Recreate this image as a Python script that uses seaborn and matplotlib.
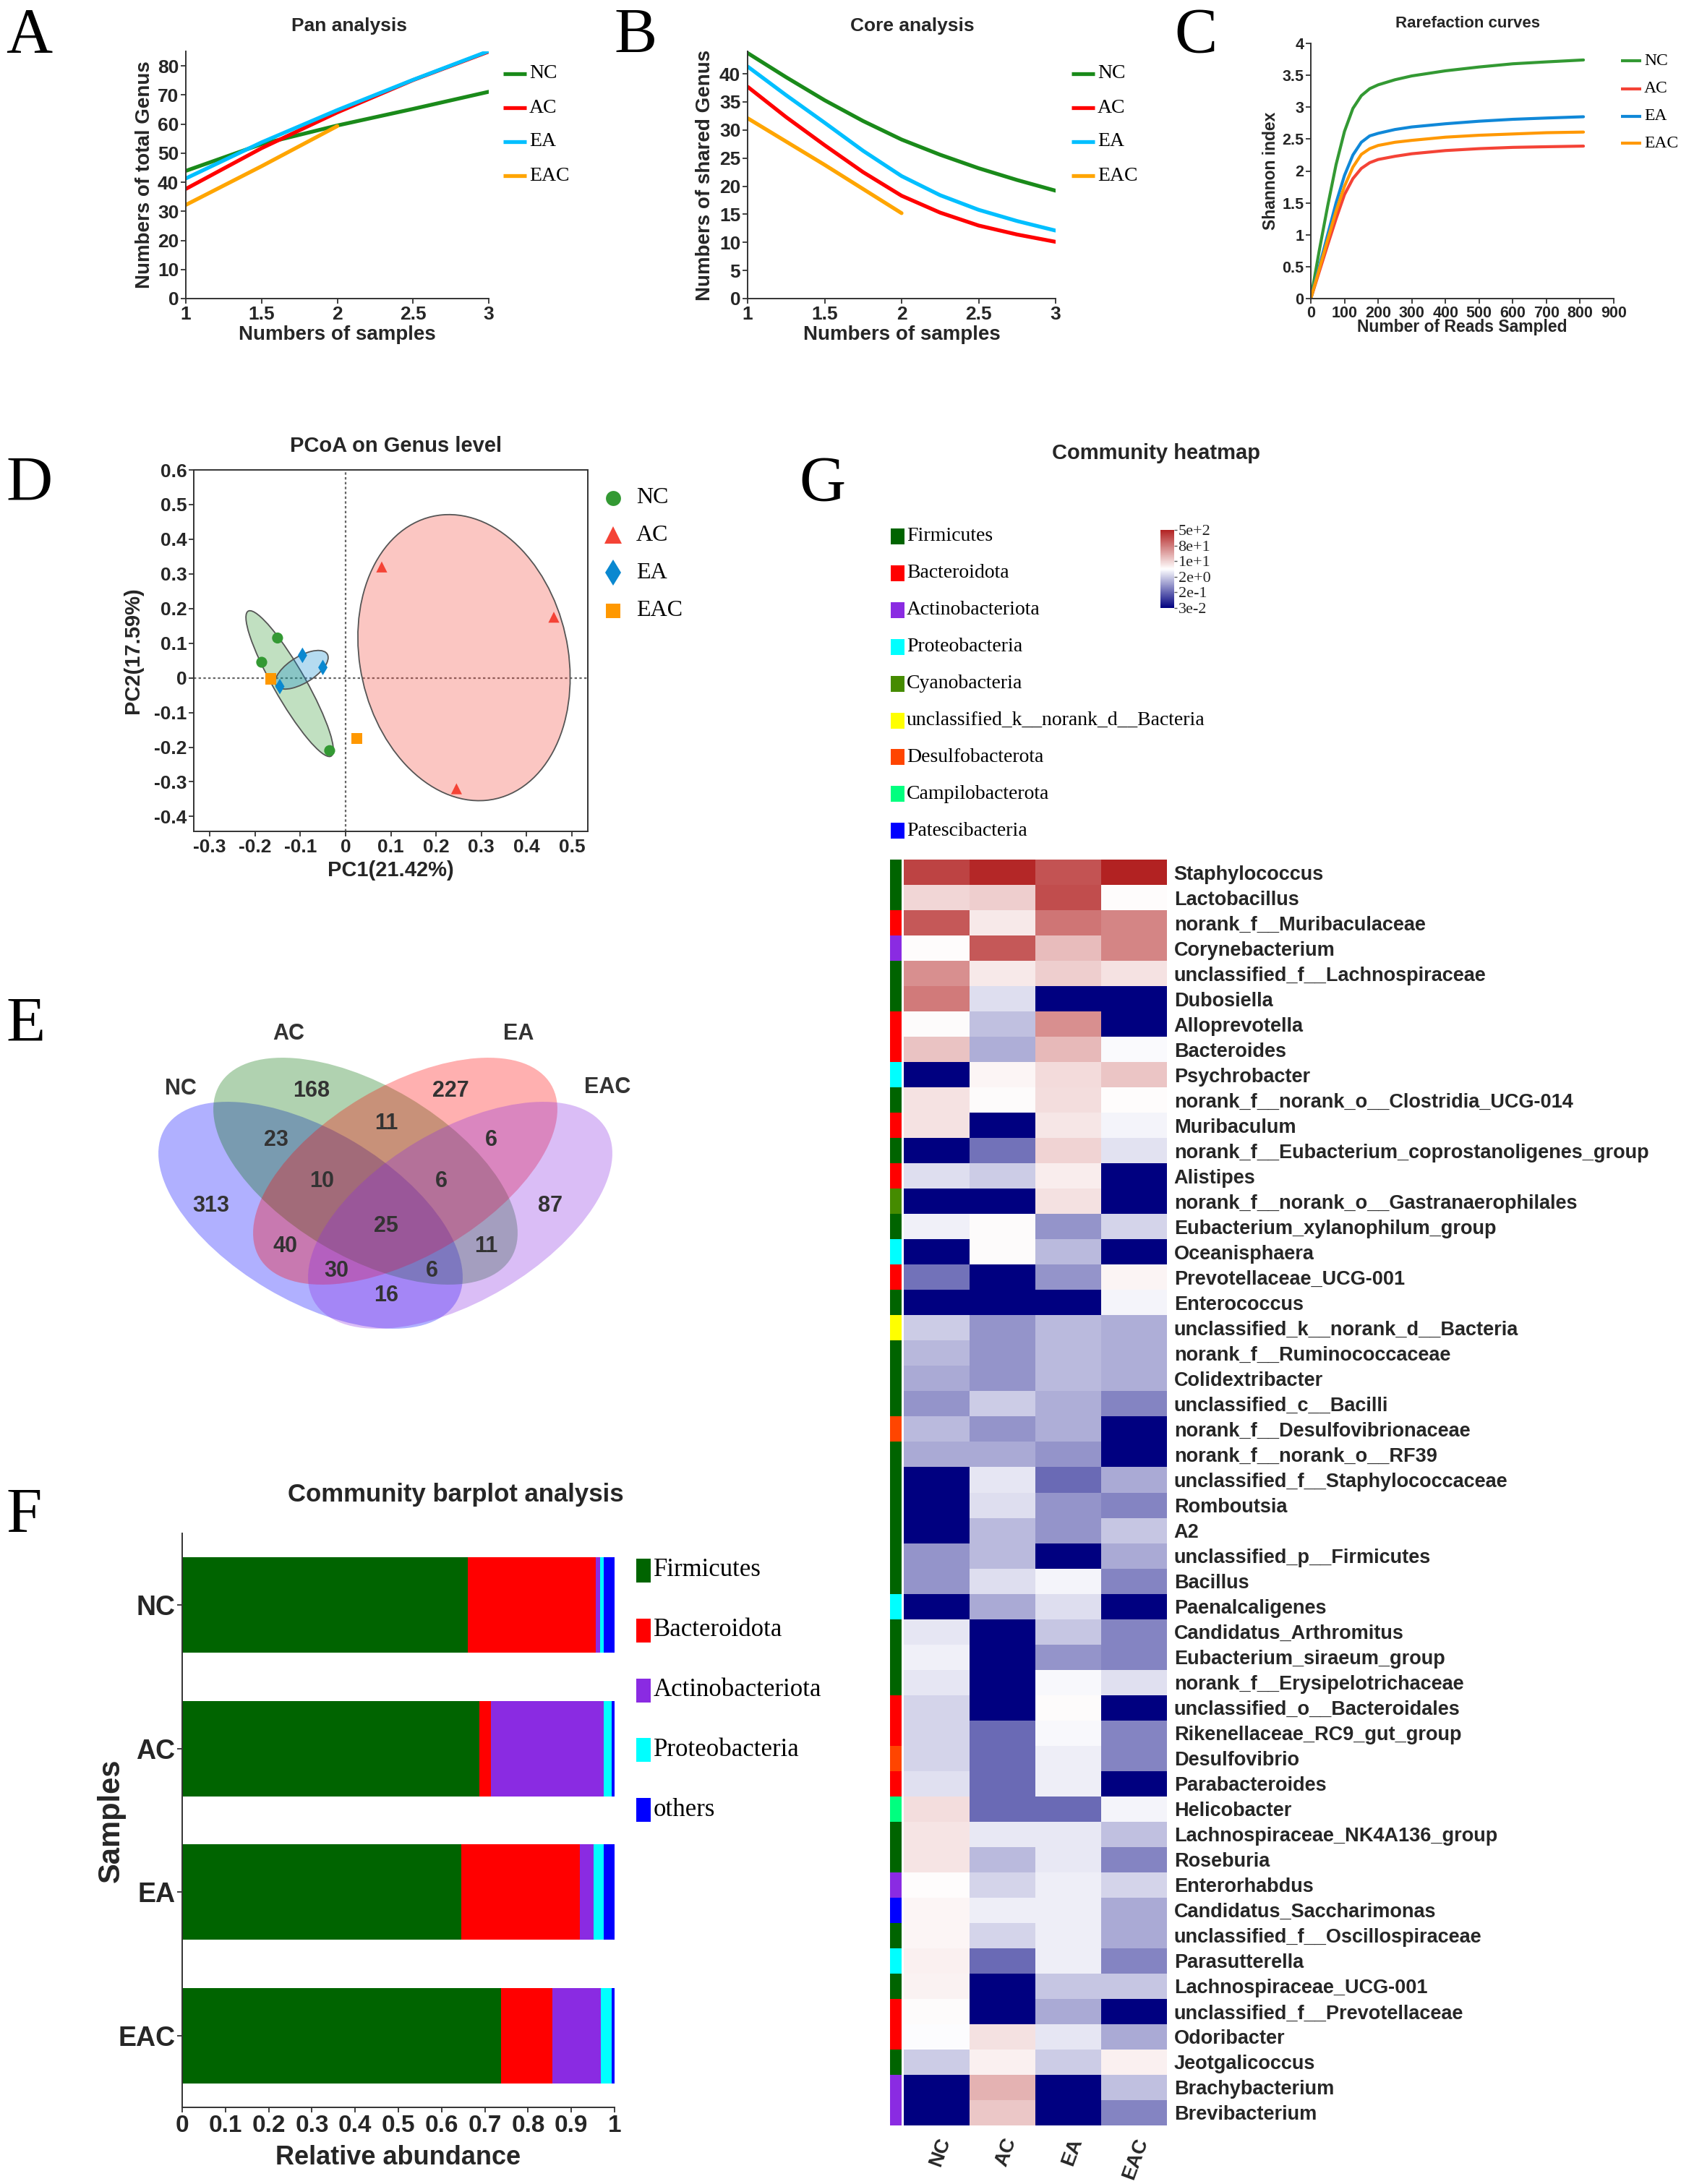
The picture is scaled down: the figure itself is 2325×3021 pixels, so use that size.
import numpy as np
import pandas as pd
import seaborn as sns
import matplotlib
matplotlib.use('Agg')
import matplotlib.pyplot as plt
from matplotlib import transforms as mtransforms
from matplotlib.patches import Ellipse, Rectangle
from matplotlib.lines import Line2D
from matplotlib.colors import LinearSegmentedColormap, ListedColormap, Normalize
from matplotlib.cm import ScalarMappable
from matplotlib.ticker import FuncFormatter, MultipleLocator

W, H, DPI = 2325, 3021, 100
SANS, SERIF = 'Liberation Sans', 'Liberation Serif'
TXT, EDGE = '#262626', '#333333'

groups = ['NC', 'AC', 'EA', 'EAC']

# ---- A: pan analysis
pan_x = [1, 1.5, 2, 2.5, 3]
pan_nc = [43.9, 53.1, 59.5, 65.2, 71.1]
pan_ac = [37.7, 51.7, 64.0, 75.1, 84.9]
pan_ea = [41.3, 53.7, 64.8, 75.2, 85.1]
pan_eac_x = [1, 1.5, 2]
pan_eac = [32.2, 45.5, 59.3]

# ---- B: core analysis
core_x = [1, 1.25, 1.5, 1.75, 2, 2.25, 2.5, 2.75, 3]
core_nc = [43.7, 39.4, 35.3, 31.6, 28.3, 25.6, 23.2, 21.1, 19.2]
core_ac = [37.7, 32.3, 27.3, 22.5, 18.3, 15.3, 13.0, 11.4, 10.1]
core_ea = [41.3, 36.2, 31.3, 26.3, 21.8, 18.4, 15.8, 13.8, 12.1]
core_eac_x = [1, 1.5, 2]
core_eac = [32.1, 23.8, 15.2]

# ---- C: rarefaction
rare_x = [0, 25, 50, 75, 100, 125, 150, 175, 200, 250, 300, 400, 500, 600, 700, 810]
rare_nc = [0, 0.75, 1.45, 2.1, 2.62, 2.98, 3.18, 3.29, 3.35, 3.43, 3.49, 3.57, 3.63, 3.68, 3.71, 3.74]
rare_ac = [0, 0.42, 0.84, 1.25, 1.63, 1.88, 2.04, 2.13, 2.18, 2.23, 2.27, 2.32, 2.35, 2.37, 2.38, 2.39]
rare_ea = [0, 0.5, 1.0, 1.5, 1.93, 2.25, 2.45, 2.55, 2.59, 2.65, 2.69, 2.74, 2.78, 2.81, 2.83, 2.85]
rare_eac = [0, 0.46, 0.92, 1.37, 1.76, 2.06, 2.26, 2.35, 2.40, 2.45, 2.48, 2.53, 2.56, 2.58, 2.60, 2.61]

# ---- D: PCoA
pcoa_group = ['NC', 'NC', 'NC', 'AC', 'AC', 'AC', 'EA', 'EA', 'EA', 'EAC', 'EAC']
pcoa_pc1 = [-0.15, -0.185, -0.035, 0.08, 0.46, 0.245, -0.095, -0.05, -0.145, -0.165, 0.025]
pcoa_pc2 = [0.115, 0.045, -0.21, 0.32, 0.175, -0.32, 0.065, 0.03, -0.025, -0.003, -0.175]

# ---- E: Venn
venn_regions = ['NC', 'AC', 'EA', 'EAC', 'NC&AC', 'AC&EA', 'EA&EAC', 'NC&EAC', 'NC&EA',
                'AC&EAC', 'NC&AC&EA', 'AC&EA&EAC', 'NC&EA&EAC', 'NC&AC&EAC', 'ALL']
venn_counts = [313, 168, 227, 87, 23, 11, 6, 16, 40, 11, 10, 6, 30, 6, 25]

# ---- F: community barplot
phyla_bar = ['Firmicutes', 'Bacteroidota', 'Actinobacteriota', 'Proteobacteria', 'others']
bar_firmicutes = [0.661, 0.688, 0.645, 0.737]
bar_bacteroidota = [0.296, 0.026, 0.274, 0.120]
bar_actino = [0.010, 0.261, 0.032, 0.111]
bar_proteo = [0.008, 0.018, 0.024, 0.025]
bar_others = [0.025, 0.007, 0.025, 0.007]

# ---- G: community heatmap
phyla_heat = ['Firmicutes', 'Bacteroidota', 'Actinobacteriota', 'Proteobacteria', 'Cyanobacteria',
              'unclassified_k__norank_d__Bacteria', 'Desulfobacterota', 'Campilobacterota',
              'Patescibacteria']
genera = ['Staphylococcus', 'Lactobacillus', 'norank_f__Muribaculaceae', 'Corynebacterium',
          'unclassified_f__Lachnospiraceae', 'Dubosiella', 'Alloprevotella', 'Bacteroides',
          'Psychrobacter', 'norank_f__norank_o__Clostridia_UCG-014', 'Muribaculum',
          'norank_f__Eubacterium_coprostanoligenes_group', 'Alistipes',
          'norank_f__norank_o__Gastranaerophilales', 'Eubacterium_xylanophilum_group',
          'Oceanisphaera', 'Prevotellaceae_UCG-001', 'Enterococcus',
          'unclassified_k__norank_d__Bacteria', 'norank_f__Ruminococcaceae', 'Colidextribacter',
          'unclassified_c__Bacilli', 'norank_f__Desulfovibrionaceae', 'norank_f__norank_o__RF39',
          'unclassified_f__Staphylococcaceae', 'Romboutsia', 'A2', 'unclassified_p__Firmicutes',
          'Bacillus', 'Paenalcaligenes', 'Candidatus_Arthromitus', 'Eubacterium_siraeum_group',
          'norank_f__Erysipelotrichaceae', 'unclassified_o__Bacteroidales',
          'Rikenellaceae_RC9_gut_group', 'Desulfovibrio', 'Parabacteroides', 'Helicobacter',
          'Lachnospiraceae_NK4A136_group', 'Roseburia', 'Enterorhabdus',
          'Candidatus_Saccharimonas', 'unclassified_f__Oscillospiraceae', 'Parasutterella',
          'Lachnospiraceae_UCG-001', 'unclassified_f__Prevotellaceae', 'Odoribacter',
          'Jeotgalicoccus', 'Brachybacterium', 'Brevibacterium']
genus_phylum = [0, 0, 1, 2, 0, 0, 1, 1, 3, 0, 1, 0, 1, 4, 0, 3, 1, 0, 5, 0, 0, 0, 6, 0, 0,
                0, 0, 0, 0, 3, 0, 0, 0, 1, 1, 6, 1, 7, 0, 0, 2, 8, 0, 3, 0, 1, 1, 0, 2, 2]
# scaled log abundance, -1 (3e-2) ... +1 (5e+2); columns NC, AC, EA, EAC
heat_levels = [
    [0.85, 0.97, 0.78, 1.0], [0.18, 0.22, 0.8, 0.01], [0.75, 0.1, 0.62, 0.55],
    [0.01, 0.75, 0.3, 0.55], [0.5, 0.1, 0.22, 0.13], [0.6, -0.13, -1, -1],
    [0.02, -0.25, 0.5, -1], [0.27, -0.32, 0.32, -0.02], [-1, 0.04, 0.16, 0.26],
    [0.13, 0.02, 0.15, 0.01], [0.13, -1, 0.11, -0.04], [-1, -0.55, 0.2, -0.11],
    [-0.13, -0.2, 0.08, -1], [-1, -1, 0.14, -1], [-0.06, 0.02, -0.42, -0.17],
    [-1, 0.02, -0.27, -1], [-0.55, -1, -0.42, 0.05], [-1, -1, -1, -0.04],
    [-0.2, -0.42, -0.27, -0.32], [-0.28, -0.42, -0.27, -0.32], [-0.33, -0.42, -0.27, -0.32],
    [-0.42, -0.2, -0.32, -0.48], [-0.27, -0.42, -0.32, -1], [-0.33, -0.33, -0.42, -1],
    [-1, -0.1, -0.58, -0.33], [-1, -0.13, -0.42, -0.48], [-1, -0.27, -0.42, -0.22],
    [-0.42, -0.27, -1, -0.33], [-0.42, -0.13, -0.04, -0.48], [-1, -0.33, -0.13, -1],
    [-0.1, -1, -0.22, -0.48], [-0.06, -1, -0.42, -0.48], [-0.1, -1, -0.03, -0.12],
    [-0.17, -1, 0.02, -1], [-0.17, -0.58, -0.03, -0.48], [-0.17, -0.58, -0.07, -0.48],
    [-0.12, -0.58, -0.07, -1], [0.15, -0.58, -0.58, -0.04], [0.12, -0.09, -0.09, -0.25],
    [0.12, -0.27, -0.09, -0.48], [0.01, -0.17, -0.07, -0.17], [0.04, -0.07, -0.07, -0.33],
    [0.04, -0.17, -0.07, -0.33], [0.07, -0.58, -0.07, -0.48], [0.06, -1, -0.22, -0.22],
    [0.02, -1, -0.33, -1], [-0.01, 0.14, -0.1, -0.33], [-0.2, 0.07, -0.2, 0.07],
    [-1, 0.35, -1, -0.25], [-1, 0.25, -1, -0.48]]
cbar_labels = ['3e-2', '2e-1', '2e+0', '1e+1', '8e+1', '5e+2']

# colours
line_colors = {'NC': '#1a8a1a', 'AC': '#ff0000', 'EA': '#00bfff', 'EAC': '#ffa500'}
rare_colors = {'NC': '#339933', 'AC': '#f44336', 'EA': '#1088d8', 'EAC': '#ff9800'}
pcoa_colors = {'NC': '#339933', 'AC': '#f44336', 'EA': '#0a88d0', 'EAC': '#ff9800'}
pcoa_markers = {'NC': 'o', 'AC': '^', 'EA': 'd', 'EAC': 's'}
venn_colors = {'NC': '#0000ff', 'AC': '#006e00', 'EA': '#ff0000', 'EAC': '#8a2be2'}
bar_colors = ['#006400', '#ff0000', '#8a2be2', '#00ffff', '#0000ff']
phylum_colors = ['#006400', '#ff0000', '#8a2be2', '#00ffff', '#458b00', '#ffff00',
                 '#ff4500', '#00ff7f', '#0000ff']

sns.set_style('ticks')
plt.rcParams['font.family'] = [SANS, 'DejaVu Sans']
plt.rcParams['font.weight'] = 'bold'
plt.rcParams['axes.labelweight'] = 'bold'
plt.rcParams['axes.unicode_minus'] = False
plt.rcParams['text.color'] = TXT

fig = plt.figure(figsize=(W / DPI, H / DPI), dpi=DPI)
PX = mtransforms.Affine2D().scale(1.0 / W, -1.0 / H).translate(0, 1) + fig.transFigure


def axes_px(l, t, r, b):
    ax = fig.add_axes([l / W, 1 - b / H, (r - l) / W, (b - t) / H])
    ax.px = (l, t, r, b)
    return ax


def text_px(x, y, s, **kw):
    return fig.text(x, y, s, transform=PX, **kw)


def style_axes(ax, size, box=False):
    if not box:
        sns.despine(ax=ax)
    for sp in ax.spines.values():
        sp.set_color(EDGE)
        sp.set_linewidth(1.4)
    ax.tick_params(direction='out', length=5, width=1.3, color=EDGE, labelsize=size,
                   labelcolor=TXT, pad=2)


def labels_px(ax, xlab, ylab, xy, yx, size):
    l, t, r, b = ax.px
    ax.set_xlabel(xlab, fontsize=size, fontweight='bold', color=TXT)
    ax.set_ylabel(ylab, fontsize=size, fontweight='bold', color=TXT)
    ax.xaxis.set_label_coords(0.5, (b - xy) / (b - t))
    ax.yaxis.set_label_coords((yx - l) / (r - l), 0.5)
    ax.xaxis.label.set_va('center')
    ax.yaxis.label.set_va('center')


def line_legend(x0, x1, xt, ys, colors, lw, fs):
    for y, n in zip(ys, groups):
        fig.add_artist(Line2D([x0, x1], [y, y], transform=PX, color=colors[n], lw=lw,
                              solid_capstyle='butt'))
        text_px(xt, y, n, family=SERIF, weight='normal', size=fs, va='center', color='black')


fmt_g = FuncFormatter(lambda v, _: f'{round(v, 2) + 0.0:g}')

# panel letters
for letter, x, y in [('A', 8, 72), ('B', 849, 72), ('C', 1624, 72), ('D', 8, 692),
                     ('E', 8, 1440), ('F', 8, 2118), ('G', 1105, 692)]:
    text_px(x, y, letter, family=SERIF, weight='normal', size=64, va='baseline', color='black')

# ---------------- A
ax = axes_px(257, 71, 676, 413)
for name, xs, ys in [('NC', pan_x, pan_nc), ('AC', pan_x, pan_ac), ('EA', pan_x, pan_ea),
                     ('EAC', pan_eac_x, pan_eac)]:
    sns.lineplot(x=xs, y=ys, color=line_colors[name], lw=3.8, ax=ax)
ax.set_xlim(1, 3)
ax.set_ylim(0, 85)
ax.xaxis.set_major_locator(MultipleLocator(0.5))
ax.yaxis.set_major_locator(MultipleLocator(10))
ax.xaxis.set_major_formatter(fmt_g)
style_axes(ax, 19)
labels_px(ax, 'Numbers of samples', 'Numbers of total Genus', 463, 200, 20)
text_px(483, 36, 'Pan analysis', size=19, ha='center', va='center')
line_legend(696, 728, 732, [102, 149, 196, 243], line_colors, 3.8, 20)

# ---------------- B
ax = axes_px(1034, 71, 1460, 413)
for name, xs, ys in [('NC', core_x, core_nc), ('AC', core_x, core_ac), ('EA', core_x, core_ea),
                     ('EAC', core_eac_x, core_eac)]:
    sns.lineplot(x=xs, y=ys, color=line_colors[name], lw=3.8, ax=ax)
ax.set_xlim(1, 3)
ax.set_ylim(0, 44)
ax.xaxis.set_major_locator(MultipleLocator(0.5))
ax.yaxis.set_major_locator(MultipleLocator(5))
ax.xaxis.set_major_formatter(fmt_g)
style_axes(ax, 19)
labels_px(ax, 'Numbers of samples', 'Numbers of shared Genus', 463, 975, 20)
text_px(1262, 36, 'Core analysis', size=19, ha='center', va='center')
line_legend(1482, 1514, 1518, [102, 149, 196, 243], line_colors, 3.8, 20)

# ---------------- C
ax = axes_px(1813, 60, 2232, 413)
for name, ys in [('NC', rare_nc), ('AC', rare_ac), ('EA', rare_ea), ('EAC', rare_eac)]:
    sns.lineplot(x=rare_x, y=ys, color=rare_colors[name], lw=3.0, ax=ax)
ax.set_xlim(0, 900)
ax.set_ylim(0, 4)
ax.xaxis.set_major_locator(MultipleLocator(100))
ax.yaxis.set_major_locator(MultipleLocator(0.5))
ax.yaxis.set_major_formatter(fmt_g)
style_axes(ax, 15.5)
labels_px(ax, 'Number of Reads Sampled', 'Shannon index', 452, 1757, 16.5)
text_px(2030, 33, 'Rarefaction curves', size=16, ha='center', va='center')
line_legend(2242, 2270, 2274, [84, 123, 161, 198], rare_colors, 3.0, 17)

# ---------------- D
ax = axes_px(268, 650, 813, 1150)
pcoa = pd.DataFrame({'PC1': pcoa_pc1, 'PC2': pcoa_pc2, 'group': pcoa_group})


def cov_ellipse(x, y, scale, **kw):
    vals, vecs = np.linalg.eigh(np.cov(x, y))
    order = vals.argsort()[::-1]
    vals, vecs = vals[order], vecs[:, order]
    ang = np.degrees(np.arctan2(vecs[1, 0], vecs[0, 0]))
    w, h = 2 * scale * np.sqrt(vals)
    return Ellipse((np.mean(x), np.mean(y)), w, h, angle=ang, **kw)


for g in ['AC', 'NC', 'EA']:
    sub = pcoa[pcoa.group == g]
    ax.add_patch(cov_ellipse(sub.PC1.values, sub.PC2.values, 1.23,
                             facecolor=matplotlib.colors.to_rgba(pcoa_colors[g], 0.3),
                             edgecolor='#555555', lw=1.3, zorder=1))
ax.axhline(0, ls=(0, (1.5, 1.5)), color='#666666', lw=1.6, zorder=0)
ax.axvline(0, ls=(0, (1.5, 1.5)), color='#666666', lw=1.6, zorder=0)
sns.scatterplot(data=pcoa, x='PC1', y='PC2', hue='group', style='group', markers=pcoa_markers,
                palette=pcoa_colors, s=120, linewidth=0, legend=False, ax=ax, zorder=3)
ax.set_xlim(-0.335, 0.535)
ax.set_ylim(-0.443, 0.6)
ax.xaxis.set_major_locator(MultipleLocator(0.1))
ax.yaxis.set_major_locator(MultipleLocator(0.1))
ax.xaxis.set_major_formatter(fmt_g)
ax.yaxis.set_major_formatter(fmt_g)
style_axes(ax, 19, box=True)
labels_px(ax, 'PC1(21.42%)', 'PC2(17.59%)', 1204, 184, 21)
text_px(548, 617, 'PCoA on Genus level', size=21, ha='center', va='center')
for y, g, ms in zip([689, 740, 792, 845], groups, [15, 17, 18, 14]):
    fig.add_artist(Line2D([848], [y], transform=PX, marker=pcoa_markers[g], ms=ms, ls='none',
                          color=pcoa_colors[g], mew=0))
    text_px(880, y, g, family=SERIF, weight='normal', size=23, va='center', color='black')

# ---------------- E (Venn) -- data coords equal figure pixels
ax = axes_px(100, 1380, 1000, 1880)
ax.set_xlim(100, 1000)
ax.set_ylim(1880, 1380)
ax.axis('off')
venn_shapes = {'NC': (429.5, 1681, 30.7), 'AC': (505.5, 1620, 30.7),
               'EA': (560.5, 1620, -30.7), 'EAC': (636.5, 1681, -30.7)}
for g in groups:
    cx, cy, ang = venn_shapes[g]
    ax.add_patch(Ellipse((cx, cy), 469, 236, angle=ang, facecolor=venn_colors[g],
                         alpha=0.31, lw=0))
venn_pos = {'NC': (292, 1668), 'AC': (431, 1509), 'EA': (623, 1509), 'EAC': (761, 1668),
            'NC&AC': (382, 1577), 'AC&EA': (534, 1554), 'EA&EAC': (679, 1577),
            'NC&EAC': (534, 1792), 'NC&EA': (395, 1724), 'AC&EAC': (672, 1724),
            'NC&AC&EA': (445, 1634), 'AC&EA&EAC': (610, 1634), 'NC&EA&EAC': (465, 1758),
            'NC&AC&EAC': (597, 1758), 'ALL': (534, 1696)}
for reg, cnt in zip(venn_regions, venn_counts):
    x, y = venn_pos[reg]
    ax.text(x, y, str(cnt), size=22, ha='center', va='center', color='#333333')
for g, (x, y) in zip(groups, [(250, 1506), (399, 1430), (717, 1430), (840, 1504)]):
    ax.text(x, y, g, size=22, ha='center', va='center', color='#333333')

# ---------------- F
ax = axes_px(252, 2121, 850, 2915)
bar_parts = np.array([bar_firmicutes, bar_bacteroidota, bar_actino, bar_proteo, bar_others])
bar_cum = np.cumsum(bar_parts, axis=0)
for i in reversed(range(len(phyla_bar))):
    sns.barplot(x=bar_cum[i], y=groups, color=bar_colors[i], orient='h', width=0.667,
                saturation=1, linewidth=0, ax=ax)
ax.set_xlim(0, 1)
ax.set_ylim(3.5, -0.5)
ax.xaxis.set_major_locator(MultipleLocator(0.1))
ax.xaxis.set_major_formatter(fmt_g)
style_axes(ax, 24)
ax.tick_params(axis='y', labelsize=27)
labels_px(ax, 'Relative abundance', 'Samples', 2985, 154, 26)
ax.yaxis.label.set_fontsize(30)
text_px(630, 2068, 'Community barplot analysis', size=25, ha='center', va='center')
for i, name in enumerate(phyla_bar):
    y = 2172 + 82.8 * i
    fig.add_artist(Rectangle((880, y - 16), 20, 33, transform=PX, color=bar_colors[i], lw=0))
    text_px(904, y, name, family=SERIF, weight='normal', size=25, va='center', color='black')

# ---------------- G
text_px(1599, 627, 'Community heatmap', size=21, ha='center', va='center')
for i, name in enumerate(phyla_heat):
    y = 742 + 50.9 * i
    fig.add_artist(Rectangle((1232, y - 11), 19, 22, transform=PX, color=phylum_colors[i], lw=0))
    text_px(1254, y, name, family=SERIF, weight='normal', size=20, va='center', color='black')

heat_cmap = LinearSegmentedColormap.from_list('navy_red', ['#000080', '#ffffff', '#b22222'])
ax_side = axes_px(1231, 1189, 1247, 2940)
sns.heatmap(np.array(genus_phylum).reshape(-1, 1), cmap=ListedColormap(phylum_colors),
            vmin=-0.5, vmax=8.5, cbar=False, xticklabels=False, yticklabels=False, ax=ax_side)

ax = axes_px(1250, 1189, 1614, 2940)
heat_df = pd.DataFrame(heat_levels, index=genera, columns=groups)
sns.heatmap(heat_df, cmap=heat_cmap, vmin=-1, vmax=1, cbar=False, xticklabels=True,
            yticklabels=True, ax=ax)
ax.yaxis.tick_right()
ax.set_yticklabels(genera, rotation=0, fontsize=19.5, fontweight='bold', color=TXT)
ax.set_xticklabels(groups, rotation=70, ha='right', rotation_mode='anchor', fontsize=20,
                   fontweight='bold', color=TXT)
ax.tick_params(axis='both', length=0)
ax.tick_params(axis='y', pad=7)
ax.tick_params(axis='x', pad=10)
ax.set_xlabel('')
ax.set_ylabel('')

cax = axes_px(1605, 733, 1624, 841)
cb = fig.colorbar(ScalarMappable(norm=Normalize(-1, 1), cmap=heat_cmap), cax=cax)
cb.set_ticks(np.linspace(-1, 1, 6))
cb.set_ticklabels(cbar_labels)
cb.outline.set_visible(False)
cb.ax.tick_params(labelsize=16, length=3, width=1, pad=1, color='#555555')
for t in cb.ax.get_yticklabels():
    t.set_family(SERIF)
    t.set_weight('normal')

fig.savefig('out.png', dpi=DPI)
